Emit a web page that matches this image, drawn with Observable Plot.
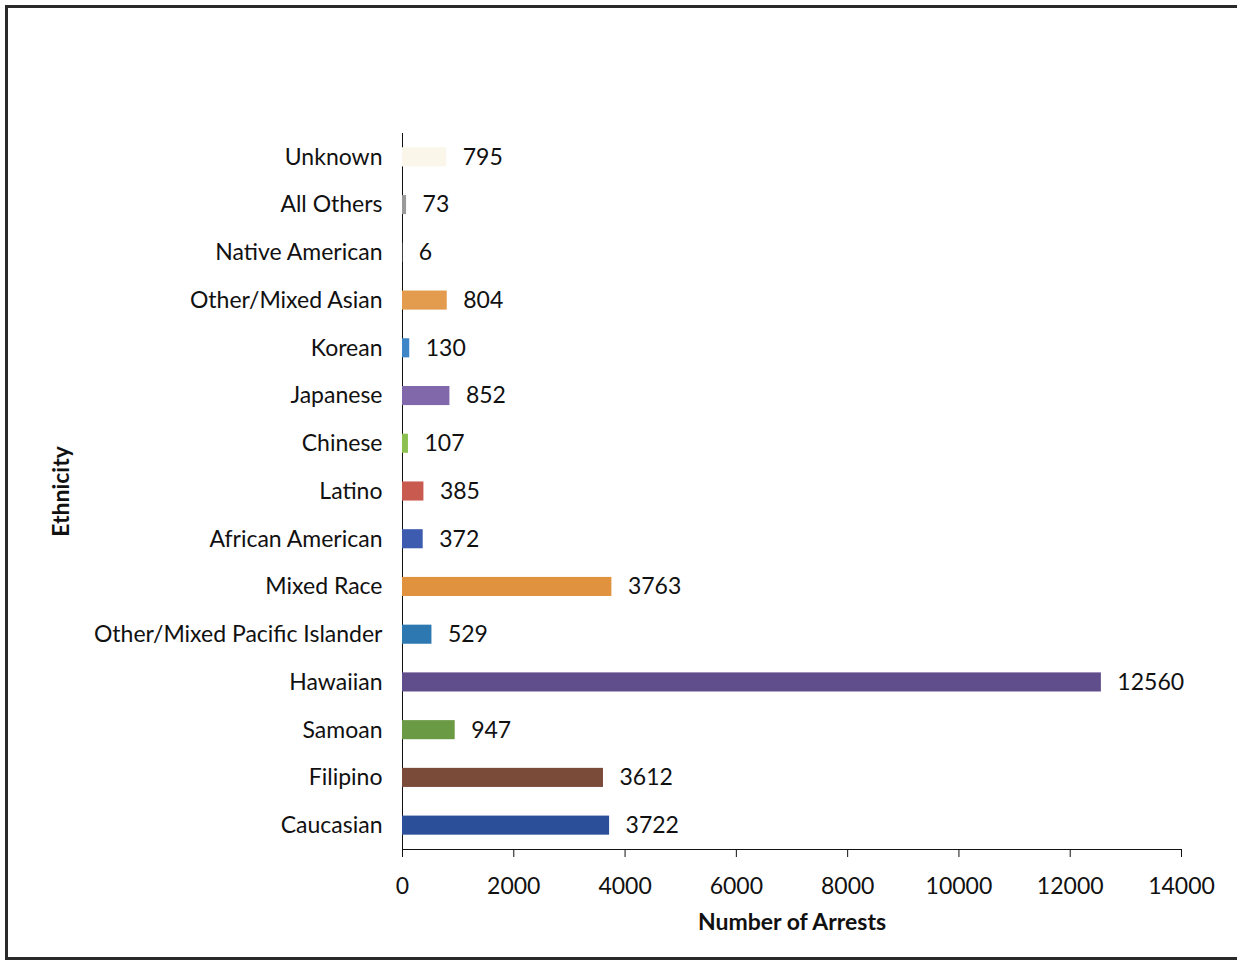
<!DOCTYPE html>
<html>
<head>
<meta charset="utf-8">
<script src="https://cdn.jsdelivr.net/npm/d3@7"></script>
<script src="https://cdn.jsdelivr.net/npm/@observablehq/plot@0.6"></script>
<style>
  html, body { margin: 0; padding: 0; background: #fff; }
  #wrap { position: relative; width: 1237px; height: 968px; overflow: hidden; }
  #frame { position: absolute; left: 5px; top: 5px; width: 1240px; height: 955px; border: 3px solid #2a2a2a; box-sizing: border-box; pointer-events: none; }
  g[aria-label="x-axis label"] text, g[aria-label="y-axis label"] text { font-weight: bold; }
</style>
</head>
<body>
<div id="wrap"><div id="frame"></div></div>
<script>
const categories = ["Unknown","All Others","Native American","Other/Mixed Asian","Korean","Japanese","Chinese","Latino","African American","Mixed Race","Other/Mixed Pacific Islander","Hawaiian","Samoan","Filipino","Caucasian"];
const arrests = [795, 73, 6, 804, 130, 852, 107, 385, 372, 3763, 529, 12560, 947, 3612, 3722];
const barColors = ["#faf7ea","#9a9a9a","#a0a0a0","#e39b4e","#3f86c8","#8068ab","#8cc152","#c85a50","#3d5cb0","#e0923e","#2d78b0","#5f4d8c","#6b9a45","#7b4b3a","#2c4f9a"];
const xTicks = [0, 2000, 4000, 6000, 8000, 10000, 12000, 14000];

const data = categories.map((c, i) => ({category: c, value: arrests[i], color: barColors[i]}));

const chart = Plot.plot({
  width: 1237,
  height: 968,
  marginLeft: 402,
  marginRight: 56,
  marginTop: 133,
  marginBottom: 119,
  style: {fontFamily: "Lato, 'Open Sans', sans-serif", fontSize: "23px", color: "#111", background: "transparent"},
  x: {domain: [0, 14000], ticks: xTicks, tickFormat: d => String(d), line: true, tickSize: 8, tickPadding: 20,
      label: "Number of Arrests", labelAnchor: "center", labelOffset: 80, labelArrow: "none"},
  y: {domain: categories, paddingInner: 0.6, paddingOuter: 0.3, round: false, line: true, tickSize: 0, tickPadding: 20,
      label: "Ethnicity", labelAnchor: "center", labelOffset: 350},
  marks: [
    Plot.barX(data, {x: "value", y: "category", fill: "color"}),
    Plot.text(data, {x: "value", y: "category", text: d => String(d.value), textAnchor: "start", dx: 16, fontSize: 23, fill: "#111"})
  ]
});
document.getElementById("wrap").prepend(chart);
chart.style.position = "absolute";
chart.style.left = "0";
chart.style.top = "0";
</script>
</body>
</html>
